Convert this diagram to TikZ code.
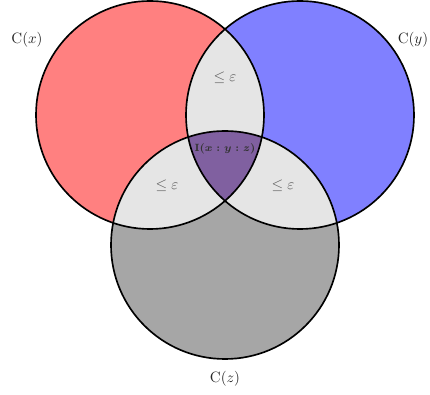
\documentclass[tikz,border=0pt]{standalone}
\definecolor{triple}{RGB}{128,96,160}
\begin{document}
\begin{tikzpicture}[x=0.6667pt,y=-0.6667pt,
  circ/.style={line width=1.1pt},
  lbl/.style={text=black!85},
  eps/.style={text=black!65}]
\useasboundingbox (0,0) rectangle (430,395);
\def\r{114}
\coordinate (X) at (150,115);
\coordinate (Y) at (300,115);
\coordinate (Z) at (225,245);
\fill[red!50] (X) circle (\r);
\fill[blue!50] (Y) circle (\r);
\fill[black!35] (Z) circle (\r);
\begin{scope}
  \clip (X) circle (\r);
  \fill[black!10] (Y) circle (\r);
  \fill[black!10] (Z) circle (\r);
\end{scope}
\begin{scope}
  \clip (Y) circle (\r);
  \fill[black!10] (Z) circle (\r);
\end{scope}
\begin{scope}
  \clip (X) circle (\r);
  \clip (Y) circle (\r);
  \fill[triple] (Z) circle (\r);
\end{scope}
\draw[circ] (X) circle (\r);
\draw[circ] (Y) circle (\r);
\draw[circ] (Z) circle (\r);
\node[lbl] (cx) at (27,40) {$\mathrm{C}(x)$};
\node[lbl] (cy) at (413,40) {$\mathrm{C}(y)$};
\node[lbl] (cz) at (225,379) {$\mathrm{C}(z)$};
\node[eps] (exy) at (225,78) {$\leq\varepsilon$};
\node[eps] (exz) at (167,186) {$\leq\varepsilon$};
\node[eps] (eyz) at (283,186) {$\leq\varepsilon$};
\node[text=black!80,font=\scriptsize\boldmath] (i) at (225,149) {$\mathbf{I}(x:y:z)$};
\end{tikzpicture}
\end{document}
